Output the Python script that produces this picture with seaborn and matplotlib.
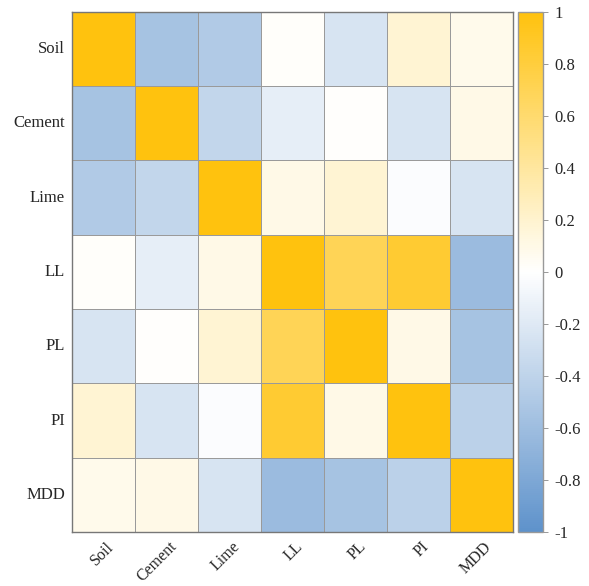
import numpy as np
import pandas as pd
import matplotlib
matplotlib.use("Agg")
import matplotlib.pyplot as plt
import matplotlib.transforms as mtransforms
from matplotlib.colors import LinearSegmentedColormap
import seaborn as sns

labels = ["Soil", "Cement", "Lime", "LL", "PL", "PI", "MDD"]

soil   = [1.00, -0.55, -0.48,  0.02, -0.25,  0.18,  0.08]
cement = [-0.55, 1.00, -0.38, -0.15,  0.01, -0.25,  0.10]
lime   = [-0.48, -0.38, 1.00,  0.10,  0.18, -0.03, -0.25]
ll     = [0.02, -0.15,  0.10,  1.00,  0.70,  0.85, -0.62]
pl     = [-0.25, 0.01,  0.18,  0.70,  1.00,  0.10, -0.55]
pi     = [0.18, -0.25, -0.03,  0.85,  0.10,  1.00, -0.42]
mdd    = [0.08,  0.10, -0.25, -0.62, -0.55, -0.42,  1.00]

cbar_ticks = [-1, -0.8, -0.6, -0.4, -0.2, 0, 0.2, 0.4, 0.6, 0.8, 1]
cbar_ticklabels = ["-1", "-0.8", "-0.6", "-0.4", "-0.2", "0", "0.2", "0.4", "0.6", "0.8", "1"]

corr = pd.DataFrame([soil, cement, lime, ll, pl, pi, mdd], index=labels, columns=labels)

sns.set_style("white")
plt.rcParams["font.family"] = ["Liberation Serif", "DejaVu Serif"]

cmap = LinearSegmentedColormap.from_list(
    "blue_white_amber", ["#5E92CB", "#FFFFFF", "#FFC20E"]
)

fig = plt.figure(figsize=(5.89, 5.86), dpi=100)
ax = fig.add_axes([0.122, 0.092, 0.749, 0.888])
cax = fig.add_axes([0.880, 0.092, 0.042, 0.888])

sns.heatmap(
    corr, ax=ax, cbar_ax=cax, cmap=cmap, vmin=-1, vmax=1,
    linewidths=0.6, linecolor="#9a9a9a", square=False,
    cbar_kws={"ticks": cbar_ticks},
)

for side in ["top", "bottom", "left", "right"]:
    ax.spines[side].set_visible(True)
    ax.spines[side].set_color("#777777")
    ax.spines[side].set_linewidth(1.0)

ax.set_xticklabels(labels, rotation=45, ha="right", va="center",
                   rotation_mode="anchor", fontsize=11.5)
ax.set_yticklabels(labels, rotation=0, fontsize=12)
ax.tick_params(axis="x", length=0, pad=9)
ax.tick_params(axis="y", length=0, pad=5)
shift = mtransforms.ScaledTranslation(0.08, 0, fig.dpi_scale_trans)
for lbl in ax.get_xticklabels():
    lbl.set_transform(lbl.get_transform() + shift)
ax.set_xlabel("")
ax.set_ylabel("")

cax.set_yticklabels(cbar_ticklabels)
cax.tick_params(axis="y", labelsize=12, length=3.5, width=0.6, color="#888888", pad=5)
cbar = ax.collections[0].colorbar
cbar.outline.set_visible(True)
cbar.outline.set_edgecolor("#999999")
cbar.outline.set_linewidth(1.0)

fig.savefig("out.png", dpi=100)
